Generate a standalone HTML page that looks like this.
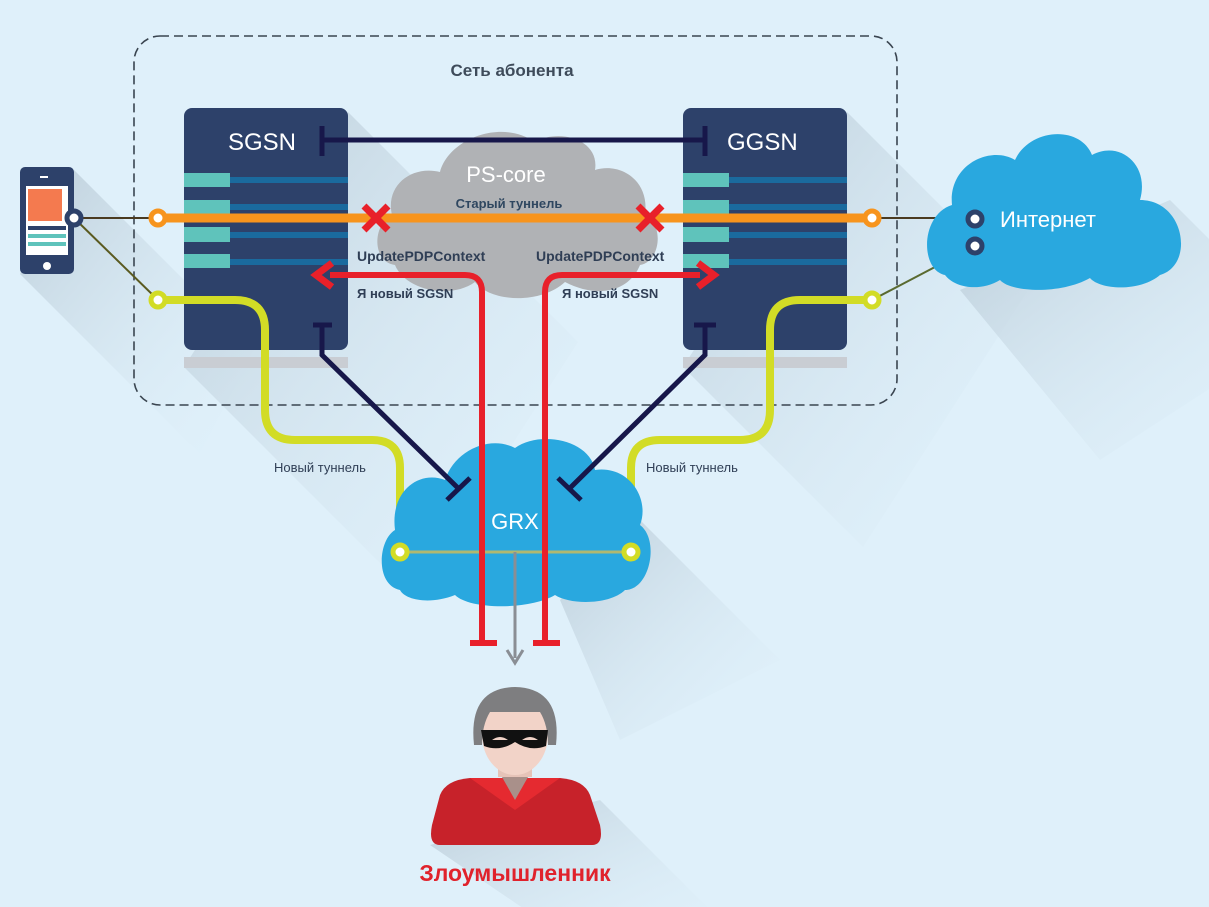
<!DOCTYPE html>
<html><head><meta charset="utf-8"><style>
html,body{margin:0;padding:0;background:#dff0fa;}
svg{display:block;font-family:"Liberation Sans",sans-serif;}
</style></head><body>
<svg width="1209" height="907" viewBox="0 0 1209 907" xmlns="http://www.w3.org/2000/svg">
<defs>
<linearGradient id="sh" x1="0" y1="0" x2="1" y2="1">
<stop offset="0" stop-color="#b9cad6" stop-opacity="0.9"/>
<stop offset="1" stop-color="#dff0fa" stop-opacity="0"/>
</linearGradient>
</defs>
<rect width="1209" height="907" fill="#dff0fa"/>
<!-- long shadows -->
<g fill="url(#sh)">
<polygon points="74,170 254,350 200,454 20,274"/>
<polygon points="348,112 578,342 414,597 184,367"/>
<polygon points="847,112 1027,292 863,547 683,367"/>
<polygon points="1170,200 1300,330 1100,460 960,290"/>
<polygon points="640,520 780,660 620,740 560,600"/>
<polygon points="600,800 740,940 570,940 430,845"/>
</g>
<!-- dashed box -->
<rect x="134" y="36" width="763" height="369" rx="26" fill="none" stroke="#3a4550" stroke-width="1.6" stroke-dasharray="9,5"/>
<text x="512" y="76" text-anchor="middle" font-size="17" font-weight="bold" fill="#3e4b5a">Сеть абонента</text>

<!-- servers -->
<g>
<rect x="184" y="357" width="164" height="11" fill="#c9cdd3"/>
<rect x="184" y="108" width="164" height="242" rx="8" fill="#2d416a"/>
<rect x="683" y="357" width="164" height="11" fill="#c9cdd3"/>
<rect x="683" y="108" width="164" height="242" rx="8" fill="#2d416a"/>
<g fill="#5fc3bb">
<rect x="184" y="173" width="46" height="14"/><rect x="184" y="200" width="46" height="15"/>
<rect x="184" y="227" width="46" height="15"/><rect x="184" y="254" width="46" height="14"/>
<rect x="683" y="173" width="46" height="14"/><rect x="683" y="200" width="46" height="15"/>
<rect x="683" y="227" width="46" height="15"/><rect x="683" y="254" width="46" height="14"/>
</g>
<g fill="#1a6a9e">
<rect x="230" y="177" width="118" height="6"/><rect x="230" y="204" width="118" height="6"/>
<rect x="230" y="232" width="118" height="6"/><rect x="230" y="259" width="118" height="6"/>
<rect x="729" y="177" width="118" height="6"/><rect x="729" y="204" width="118" height="6"/>
<rect x="729" y="232" width="118" height="6"/><rect x="729" y="259" width="118" height="6"/>
</g>
<text x="228" y="150" font-size="24" fill="#fff">SGSN</text>
<text x="727" y="150" font-size="24" fill="#fff">GGSN</text>
</g>

<!-- PS-core cloud -->
<path d="M395,265 C372,262 372,225 392,215 C385,185 412,165 440,172 C448,140 500,118 535,142 C560,128 600,140 595,170 C620,162 650,180 645,215 C665,225 660,262 640,265 C630,290 600,300 565,282 C540,305 490,302 475,282 C450,300 405,290 395,265 Z" fill="#b0b2b5"/>
<text x="506" y="182" text-anchor="middle" font-size="22" fill="#fff">PS-core</text>

<!-- navy top T line -->
<g stroke="#17174a" stroke-width="5" fill="none">
<line x1="322" y1="140" x2="705" y2="140"/>
<line x1="322" y1="126" x2="322" y2="156"/>
<line x1="705" y1="126" x2="705" y2="156"/>
</g>
<text x="509" y="208" text-anchor="middle" font-size="13" font-weight="bold" fill="#2f4760">Старый туннель</text>

<!-- thin connectors -->
<line x1="74" y1="218" x2="158" y2="218" stroke="#4a3a20" stroke-width="2"/>
<line x1="872" y1="218" x2="975" y2="218" stroke="#4a3a20" stroke-width="2"/>
<line x1="74" y1="218" x2="158" y2="300" stroke="#5a5a20" stroke-width="2"/>
<line x1="872" y1="300" x2="975" y2="246" stroke="#5a6a30" stroke-width="2"/>

<!-- orange line -->
<line x1="158" y1="218" x2="872" y2="218" stroke="#f7941d" stroke-width="9"/>

<!-- yellow lines -->
<g stroke="#d2dc26" stroke-width="8" fill="none">
<path d="M158,300 H235 Q265,300 265,330 V410 Q265,440 295,440 H372 Q400,440 400,468 V552"/>
<path d="M872,300 H800 Q770,300 770,330 V410 Q770,440 740,440 H660 Q631,440 631,468 V552"/>
</g>

<!-- internet cloud -->
<path d="M945,275 C920,270 920,215 952,205 C948,165 990,145 1015,160 C1030,128 1080,125 1092,155 C1120,140 1150,165 1140,200 C1185,200 1195,265 1160,275 C1140,292 1100,290 1090,278 C1060,295 1010,292 1000,280 C980,292 955,288 945,275 Z" fill="#29a8df"/>
<text x="1000" y="227" font-size="22" fill="#fff">Интернет</text>
<circle cx="975" cy="219" r="7" fill="#fff" stroke="#2d416a" stroke-width="5"/>
<circle cx="975" cy="246" r="7" fill="#fff" stroke="#2d416a" stroke-width="5"/>

<!-- GRX cloud -->
<path d="M400,590 C375,585 378,540 395,530 C390,490 420,470 445,480 C455,450 490,435 515,448 C540,430 590,440 595,470 C630,465 650,500 640,525 C660,540 650,590 625,590 C610,605 570,605 555,595 C530,610 470,610 455,595 C430,605 405,600 400,590 Z" fill="#29a8df"/>
<text x="515" y="529" text-anchor="middle" font-size="22" fill="#fff">GRX</text>
<line x1="400" y1="552" x2="631" y2="552" stroke="#b0b870" stroke-width="3"/>
<line x1="515" y1="552" x2="515" y2="658" stroke="#8a8e94" stroke-width="3"/>
<path d="M507,650 L515,663 L523,650" stroke="#8a8e94" stroke-width="3" fill="none"/>

<!-- navy diagonals -->
<g stroke="#17174a" stroke-width="5" fill="none">
<path d="M322,325 V355 L460,490"/>
<line x1="313" y1="325" x2="332" y2="325"/>
<line x1="447" y1="500" x2="470" y2="478"/>
<path d="M705,325 V355 L568,490"/>
<line x1="694" y1="325" x2="716" y2="325"/>
<line x1="558" y1="478" x2="581" y2="500"/>
</g>

<!-- red lines -->
<g stroke="#e8202a" stroke-width="6" fill="none">
<path d="M330,275 H465 Q482,275 482,292 V643"/>
<path d="M700,275 H562 Q545,275 545,292 V643"/>
<line x1="470" y1="643" x2="497" y2="643"/>
<line x1="533" y1="643" x2="560" y2="643"/>
</g>
<path d="M332,263 L316,275 L332,287" stroke="#e8202a" stroke-width="7" fill="none"/>
<path d="M698,263 L714,275 L698,287" stroke="#e8202a" stroke-width="7" fill="none"/>

<!-- circles -->
<g stroke-width="5" fill="#fff">
<circle cx="158" cy="218" r="7" stroke="#f7941d"/>
<circle cx="872" cy="218" r="7" stroke="#f7941d"/>
<circle cx="158" cy="300" r="7" stroke="#d2dc26"/>
<circle cx="872" cy="300" r="7" stroke="#d2dc26"/>
<circle cx="400" cy="552" r="7" stroke="#d2dc26"/>
<circle cx="631" cy="552" r="7" stroke="#d2dc26"/>
</g>

<!-- red X -->
<g stroke="#e8202a" stroke-width="7">
<line x1="364" y1="206" x2="388" y2="230"/><line x1="388" y1="206" x2="364" y2="230"/>
<line x1="638" y1="206" x2="662" y2="230"/><line x1="662" y1="206" x2="638" y2="230"/>
</g>

<!-- labels -->
<g font-size="14" font-weight="bold" fill="#2f3e55">
<text x="357" y="261">UpdatePDPContext</text>
<text x="536" y="261">UpdatePDPContext</text>
<text x="357" y="298" font-size="13">Я новый SGSN</text>
<text x="562" y="298" font-size="13">Я новый SGSN</text>
</g>
<text x="274" y="472" font-size="13" fill="#2f3e55">Новый туннель</text>
<text x="646" y="472" font-size="13" fill="#2f3e55">Новый туннель</text>

<!-- phone -->
<rect x="20" y="167" width="54" height="107" rx="5" fill="#2d416a"/>
<rect x="26" y="186" width="42" height="69" fill="#fff"/>
<rect x="28" y="189" width="34" height="32" fill="#f47a4f"/>
<rect x="28" y="226" width="38" height="4" fill="#2d416a"/>
<rect x="28" y="234" width="38" height="4" fill="#5fc3bb"/>
<rect x="28" y="242" width="38" height="4" fill="#5fc3bb"/>
<rect x="40" y="176" width="8" height="2" fill="#fff"/>
<circle cx="47" cy="266" r="4" fill="#fff"/>
<circle cx="74" cy="218" r="7" fill="#fff" stroke="#2d416a" stroke-width="5"/>

<!-- attacker -->
<path d="M440,845 Q428,845 432,825 L440,795 Q446,780 470,778 L560,778 Q584,780 590,795 L600,825 Q604,845 592,845 Z" fill="#c7222a"/>
<path d="M470,778 L515,810 L560,778 Z" fill="#e52a30"/>
<path d="M498,770 L515,800 L532,770 Z" fill="#a9908a"/>
<rect x="498" y="755" width="34" height="22" fill="#e6c3b8"/>
<ellipse cx="515" cy="735" rx="33" ry="40" fill="#f2d3c8"/>
<path d="M474,745 Q468,688 515,687 Q562,688 556,745 L548,745 Q548,725 540,712 L490,712 Q482,725 482,745 Z" fill="#7e7e80"/>
<path d="M481,730 L548,730 L546,746 Q530,752 515,742 Q500,752 484,746 Z" fill="#111"/>
<path d="M492,740 Q500,734 508,740 Z M522,740 Q530,734 538,740 Z" fill="#f2d3c8"/>
<text x="515" y="881" text-anchor="middle" font-size="23" font-weight="bold" fill="#e0222c">Злоумышленник</text>
</svg>
</body></html>
